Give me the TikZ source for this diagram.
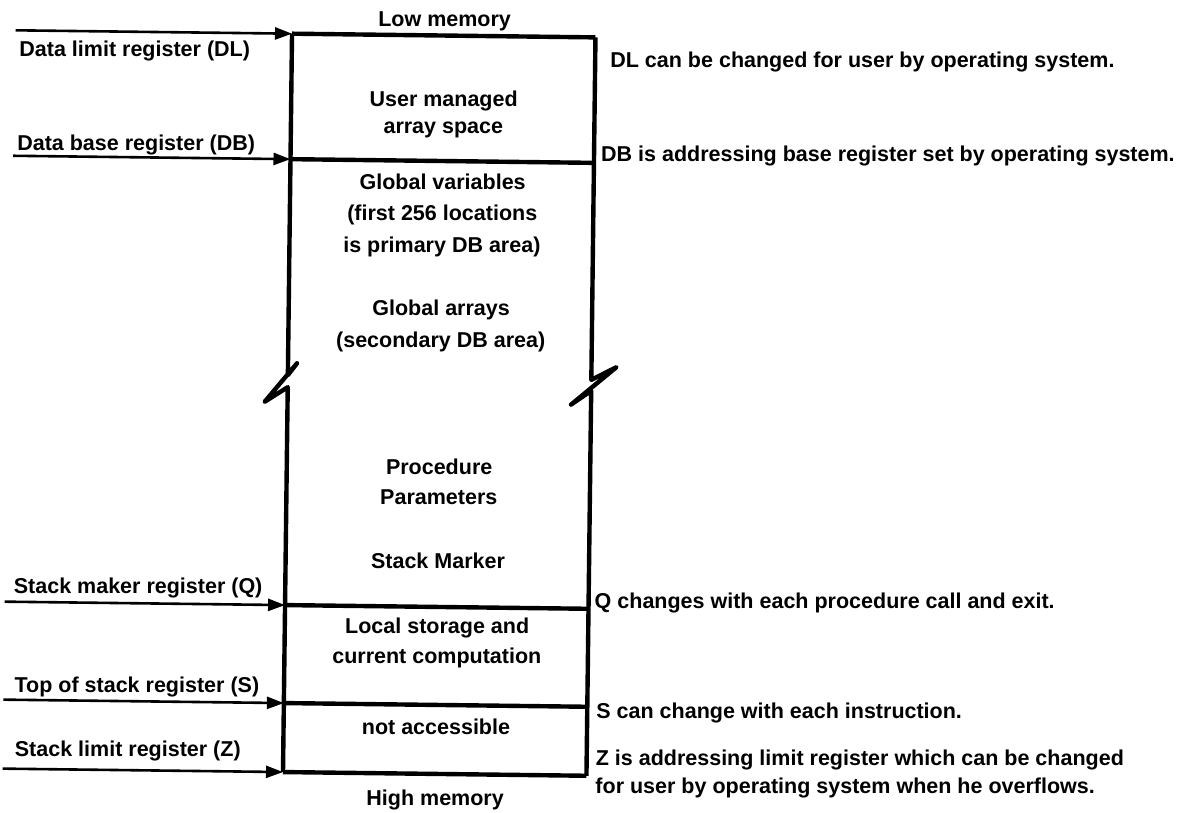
\documentclass[tikz,border=0pt]{standalone}
\usepackage{fontspec}
\setmainfont{Liberation Sans}
\usetikzlibrary{arrows.meta}
\begin{document}
\begin{tikzpicture}[x=1pt,y=-1pt,
  txt/.style={font=\fontsize{21.5}{31}\selectfont\bfseries, inner sep=0pt},
  lbl/.style={txt, anchor=base west},
  ctr/.style={txt, anchor=base},
  boxline/.style={line width=4.4pt, line join=round},
  reg/.style={line width=2.6pt, -{Triangle[length=17pt,width=12pt]}}]
\useasboundingbox (0,0) rectangle (1195,812);
\begin{scope}[rotate around={-0.7:(440,406)}]
% box coordinates
\coordinate (TL) at (287.5,35.5);  \coordinate (TR) at (591,35.5);
\coordinate (BL) at (287.5,161);   \coordinate (BR) at (591,161);
\coordinate (QL) at (287.5,607);   \coordinate (QR) at (591,607);
\coordinate (SL) at (287.5,705);   \coordinate (SR) at (591,705);
\coordinate (ZL) at (287.5,774);   \coordinate (ZR) at (591,774);
% outline with break marks
\draw[boxline] (TL) -- (TR);
\draw[boxline] (BL) -- (BR);
\draw[boxline] (QL) -- (QR);
\draw[boxline] (SL) -- (SR);
\draw[boxline] (ZL) -- (ZR);
\draw[boxline] (TL) -- (287.5,377) -- (296.5,365) -- (264.5,404) -- (287.5,389) -- (ZL);
\draw[boxline] (TR) -- (591,378) -- (616,365) -- (571,403) -- (591,389) -- (ZR);
% register arrows
\coordinate (dlS) at (11,35.5);
\coordinate (dbS) at (10,161);
\coordinate (qS) at (7,607);
\coordinate (sS) at (7,705);
\coordinate (zS) at (7,774);
\draw[reg] (dlS) -- (TL);
\draw[reg] (dbS) -- (BL);
\draw[reg] (qS) -- (QL);
\draw[reg] (sS) -- (SL);
\draw[reg] (zS) -- (ZL);
% left labels
\node[lbl] (ldl) at (15,62) {Data limit register (DL)};
\node[lbl] (ldb) at (14,156) {Data base register (DB)};
\node[lbl] (lq) at (16,599) {Stack maker register (Q)};
\node[lbl] (ls) at (18,698) {Top of stack register (S)};
\node[lbl] (lz) at (19,762) {Stack limit register (Z)};
% box contents
\node[ctr] (low) at (440,26) {Low memory};
\node[ctr] (u1) at (440,106) {User managed};
\node[ctr] (u2) at (440,133) {array space};
\node[ctr] (g1) at (440,189) {Global variables};
\node[ctr] (g2) at (440,220) {(first 256 locations};
\node[ctr] (g3) at (440,252) {is primary DB area)};
\node[ctr] (g4) at (440,315) {Global arrays};
\node[ctr] (g5) at (440,347) {(secondary DB area)};
\node[ctr] (p1) at (440,474) {Procedure};
\node[ctr] (p2) at (440,505) {Parameters};
\node[ctr] (sm) at (440,569) {Stack Marker};
\node[ctr] (l1) at (440,634) {Local storage and};
\node[ctr] (l2) at (440,664) {current computation};
\node[ctr] (na) at (440,735) {not accessible};
\node[ctr] (high) at (440,806) {High memory};
% right notes
\node[lbl] (rdl) at (606,65) {DL can be changed for user by operating system.};
\node[lbl] (rdb) at (598,160) {DB is addressing base register set by operating system.};
\node[lbl] (rq) at (597,607) {Q changes with each procedure call and exit.};
\node[lbl] (rs) at (600,717) {S can change with each instruction.};
\node[lbl] (rz1) at (600,764) {Z is addressing limit register which can be changed};
\node[lbl] (rz2) at (600,792) {for user by operating system when he overflows.};
\end{scope}
\end{tikzpicture}
\end{document}
